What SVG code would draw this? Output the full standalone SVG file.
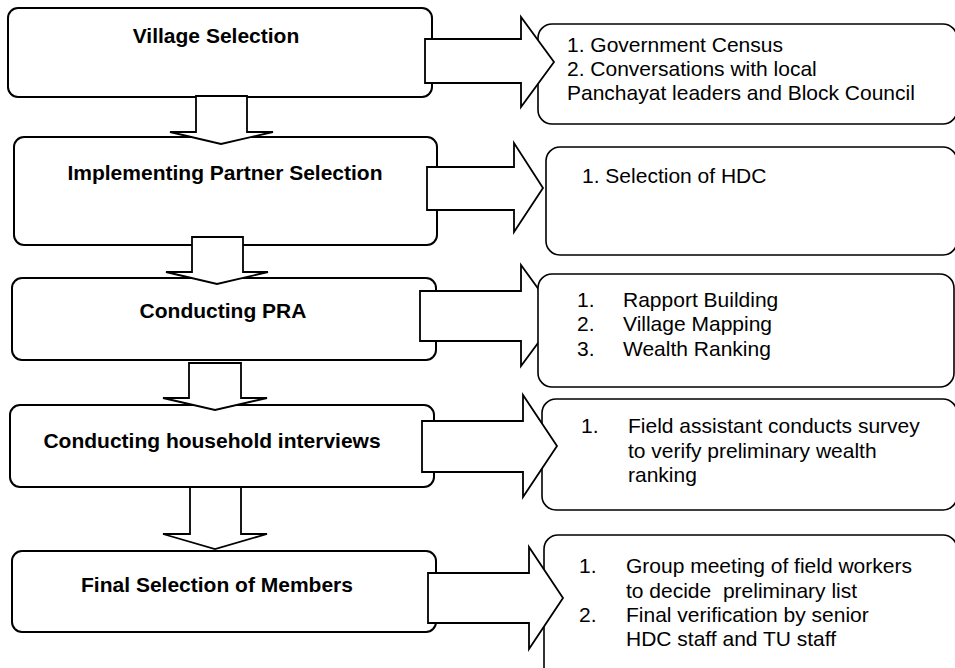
<svg xmlns="http://www.w3.org/2000/svg" width="955" height="668" viewBox="0 0 955 668">
<style>
  .lb { fill:#fff; stroke:#000; stroke-width:2; }
  .rb { fill:#fff; stroke:#000; stroke-width:1.6; }
  .ar { fill:#fff; stroke:#000; stroke-width:1.8; stroke-linejoin:miter; }
  .t { font-family:"Liberation Sans", Arial, sans-serif; font-size:21px; font-weight:bold; fill:#000; text-anchor:middle; }
  .r { font-family:"Liberation Sans", Arial, sans-serif; font-size:21px; fill:#000; white-space:pre; }
</style>
<rect width="955" height="668" fill="#fff"/>

<g id="village-selection">
  <rect class="lb" x="8" y="8" width="424" height="89" rx="10"/>
  <text class="t" x="216" y="43">Village Selection</text>
</g>
<g id="partner-selection">
  <rect class="lb" x="14" y="137" width="423" height="108" rx="10"/>
  <text class="t" x="225" y="180">Implementing Partner Selection</text>
</g>
<g id="conducting-pra">
  <rect class="lb" x="12" y="278" width="424" height="82" rx="10"/>
  <text class="t" x="223" y="318">Conducting PRA</text>
</g>
<g id="household-interviews">
  <rect class="lb" x="10" y="405" width="424" height="82" rx="10"/>
  <text class="t" x="212" y="448">Conducting household interviews</text>
</g>
<g id="final-selection">
  <rect class="lb" x="12" y="551" width="424" height="81" rx="10"/>
  <text class="t" x="217" y="592">Final Selection of Members</text>
</g>

<g id="village-details">
  <rect class="rb" x="538" y="24" width="419" height="100" rx="14"/>
  <text class="r" x="567" y="52">1. Government Census</text>
  <text class="r" x="567" y="76">2. Conversations with local</text>
  <text class="r" x="567" y="100">Panchayat leaders and Block Council</text>
</g>
<g id="partner-details">
  <rect class="rb" x="546" y="147" width="411" height="108" rx="14"/>
  <text class="r" x="582" y="183">1. Selection of HDC</text>
</g>
<g id="household-details">
  <rect class="rb" x="542" y="399" width="415" height="111" rx="14"/>
  <text class="r" x="581" y="433">1.</text>
  <text class="r" x="628" y="433">Field assistant conducts survey</text>
  <text class="r" x="628" y="458">to verify preliminary wealth</text>
  <text class="r" x="628" y="482">ranking</text>
</g>
<g id="final-details">
  <rect class="rb" x="544" y="535" width="413" height="150" rx="14"/>
  <text class="r" x="579" y="573">1.</text>
  <text class="r" x="626" y="573">Group meeting of field workers</text>
  <text class="r" x="626" y="598">to decide  preliminary list</text>
  <text class="r" x="579" y="622">2.</text>
  <text class="r" x="626" y="622">Final verification by senior</text>
  <text class="r" x="626" y="646">HDC staff and TU staff</text>
</g>

<g id="connectors">
  <polygon class="ar" points="196,96 247,96 247,132 273,132 221,144 170,132 196,132"/>
  <polygon class="ar" points="192,237 243,237 243,272 268,272 217,284 166,272 192,272"/>
  <polygon class="ar" points="189,363 241,363 241,398 267,398 215,410 163,398 189,398"/>
  <polygon class="ar" points="190,487 241,487 241,534 267,534 215,549 163,534 190,534"/>
  <polygon class="ar" points="425,39 521,39 521,17 554,62 521,107 521,83 425,83"/>
  <polygon class="ar" points="427,167 514,167 514,143 543,188 514,232 514,210 427,210"/>
  <polygon class="ar" points="420,291 521,291 521,265 558,316 521,366 521,341 420,341"/>
  <polygon class="ar" points="422,421 523,421 523,395 557,446 523,497 523,472 422,472"/>
  <polygon class="ar" points="428,573 529,573 529,547 563,598 529,649 529,623 428,623"/>
</g>

<g id="pra-details">
  <rect class="rb" x="538" y="274" width="416" height="113" rx="14"/>
  <text class="r" x="577" y="307">1.</text>
  <text class="r" x="623" y="307">Rapport Building</text>
  <text class="r" x="577" y="331">2.</text>
  <text class="r" x="623" y="331">Village Mapping</text>
  <text class="r" x="577" y="356">3.</text>
  <text class="r" x="623" y="356">Wealth Ranking</text>
</g>
</svg>
